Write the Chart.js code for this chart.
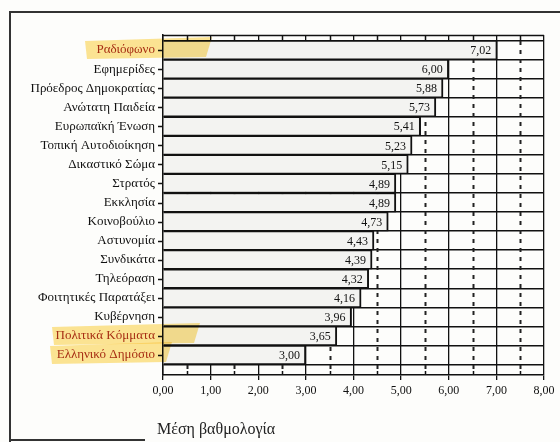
<!DOCTYPE html>
<html lang="el">
<head>
<meta charset="utf-8">
<title>Μέση βαθμολογία</title>
<script src="https://cdn.jsdelivr.net/npm/chart.js@4/dist/chart.umd.min.js"></script>
<style>
    html, body { margin: 0; padding: 0; background: #fdfdfb; }
    #wrap { position: relative; width: 560px; height: 442px; }
</style>
</head>
<body>
<div id="wrap"><canvas id="chart" width="560" height="442"></canvas></div>
<script>
// Dados do gráfico
const categories = ['Ραδιόφωνο', 'Εφημερίδες', 'Πρόεδρος Δημοκρατίας', 'Ανώτατη Παιδεία',
    'Ευρωπαϊκή Ένωση', 'Τοπική Αυτοδιοίκηση', 'Δικαστικό Σώμα', 'Στρατός', 'Εκκλησία',
    'Κοινοβούλιο', 'Αστυνομία', 'Συνδικάτα', 'Τηλεόραση', 'Φοιτητικές Παρατάξει',
    'Κυβέρνηση', 'Πολιτικά Κόμματα', 'Ελληνικό Δημόσιο'];
const scores = [7.02, 6.00, 5.88, 5.73, 5.41, 5.23, 5.15, 4.89, 4.89, 4.73, 4.43, 4.39, 4.32, 4.16, 3.96, 3.65, 3.00];
const xTicks = [0, 1, 2, 3, 4, 5, 6, 7, 8];
const halfTicks = [0.5, 1.5, 2.5, 3.5, 4.5, 5.5, 6.5, 7.5];
const markedRows = [0, 15, 16];
const axisTitle = 'Μέση βαθμολογία';

const SERIF = '"Liberation Serif", "DejaVu Serif", serif';

// Formato com vírgula decimal
function fmt(v) {
    return v.toFixed(2).replace('.', ',');
}

// Moldura, linhas tracejadas e marcas
const decorPlugin = {
    id: 'decor',
    beforeDraw(chart) {
        const c = chart.ctx;
        c.save();
        c.strokeStyle = '#333';
        c.lineWidth = 2;
        c.beginPath();
        c.moveTo(10, 442);
        c.lineTo(10, 12);
        c.lineTo(560, 12);
        c.moveTo(10, 440);
        c.lineTo(145, 440);
        c.stroke();
        c.restore();
    },
    beforeDatasetsDraw(chart) {
        const c = chart.ctx;
        const area = chart.chartArea;
        const x = chart.scales.x;
        c.save();
        c.strokeStyle = '#222';
        c.lineWidth = 2;
        c.setLineDash([4, 5]);
        halfTicks.forEach(v => {
            const px = Math.round(x.getPixelForValue(v)) + 0.5;
            c.beginPath();
            c.moveTo(px, area.top + 6);
            c.lineTo(px, area.bottom);
            c.stroke();
        });
        c.restore();
    },
    afterDatasetsDraw(chart) {
        const c = chart.ctx;
        const area = chart.chartArea;
        const x = chart.scales.x;
        const y = chart.scales.y;
        const meta = chart.getDatasetMeta(0);

        // valores no fim das barras
        c.save();
        c.font = '12px ' + SERIF;
        c.fillStyle = '#111';
        c.textAlign = 'right';
        c.textBaseline = 'middle';
        meta.data.forEach((bar, i) => {
            c.fillText(fmt(scores[i]), bar.x - 6, bar.y + 1);
        });

        // linha superior e marcas pequenas
        c.strokeStyle = '#111';
        c.lineWidth = 1.5;
        c.beginPath();
        c.moveTo(area.left, area.top + 0.5);
        c.lineTo(area.right, area.top + 0.5);
        halfTicks.forEach(v => {
            const px = Math.round(x.getPixelForValue(v)) + 0.5;
            c.moveTo(px, area.top);
            c.lineTo(px, area.top + 5);
            c.moveTo(px, area.bottom);
            c.lineTo(px, area.bottom - 4);
        });
        categories.forEach((_, i) => {
            const py = Math.round(y.getPixelForValue(i)) + 0.5;
            c.moveTo(area.left, py);
            c.lineTo(area.left - 5, py);
        });
        c.stroke();

        // marca-texto amarelo
        c.globalCompositeOperation = 'multiply';
        c.fillStyle = 'rgba(250, 205, 60, 0.55)';
        const spans = { 0: [85, 212], 15: [52, 200], 16: [50, 172] };
        markedRows.forEach(i => {
            const py = y.getPixelForValue(i);
            const s = spans[i];
            c.beginPath();
            c.moveTo(s[0], py - 9);
            c.lineTo(s[1], py - 13);
            c.lineTo(s[1] - 6, py + 7);
            c.lineTo(s[0] + 2, py + 9);
            c.closePath();
            c.fill();
        });
        c.restore();

        // título do eixo
        c.save();
        c.font = '16px ' + SERIF;
        c.fillStyle = '#222';
        c.textAlign = 'left';
        c.textBaseline = 'alphabetic';
        c.fillText(axisTitle, 157, 434);
        c.restore();
    }
};

// Criar gráfico
function createScoreChart() {
    const ctx = document.getElementById('chart');
    new Chart(ctx, {
        type: 'bar',
        data: {
            datasets: [{
                data: scores.map((v, i) => ({ x: v, y: i })),
                backgroundColor: '#f3f3f1',
                borderColor: '#111',
                borderWidth: { top: 1.5, bottom: 1.5, right: 2, left: 0 },
                borderSkipped: false,
                barPercentage: 1,
                categoryPercentage: 1
            }]
        },
        options: {
            indexAxis: 'y',
            responsive: false,
            animation: false,
            layout: { padding: { left: 0, top: 35, right: 16, bottom: 0 } },
            plugins: {
                legend: { display: false },
                tooltip: { enabled: false }
            },
            scales: {
                x: {
                    type: 'linear',
                    min: 0,
                    max: 8,
                    afterBuildTicks: s => { s.ticks = xTicks.map(v => ({ value: v })); },
                    afterFit: s => { s.height = 67; },
                    ticks: {
                        callback: v => fmt(v),
                        color: '#111',
                        font: { family: SERIF, size: 12 },
                        padding: 4,
                        maxRotation: 0
                    },
                    grid: {
                        color: '#111',
                        lineWidth: 1.3,
                        tickLength: 5,
                        tickColor: '#111'
                    },
                    border: { color: '#111', width: 1.5 }
                },
                y: {
                    type: 'linear',
                    reverse: true,
                    offset: false,
                    min: -0.79,
                    max: 17.05,
                    afterBuildTicks: s => { s.ticks = categories.map((_, i) => ({ value: i })); },
                    afterFit: s => { s.width = 163; },
                    ticks: {
                        callback: v => categories[v],
                        color: c => markedRows.includes(c.index) ? '#a8321e' : '#111',
                        font: { family: SERIF, size: 13 },
                        padding: 8,
                        autoSkip: false
                    },
                    grid: {
                        offset: true,
                        color: '#111',
                        lineWidth: 1.5,
                        drawTicks: false
                    },
                    border: { color: '#111', width: 1.5 }
                }
            }
        },
        plugins: [decorPlugin]
    });
}

document.addEventListener('DOMContentLoaded', function() {
    createScoreChart();
});
</script>
</body>
</html>
